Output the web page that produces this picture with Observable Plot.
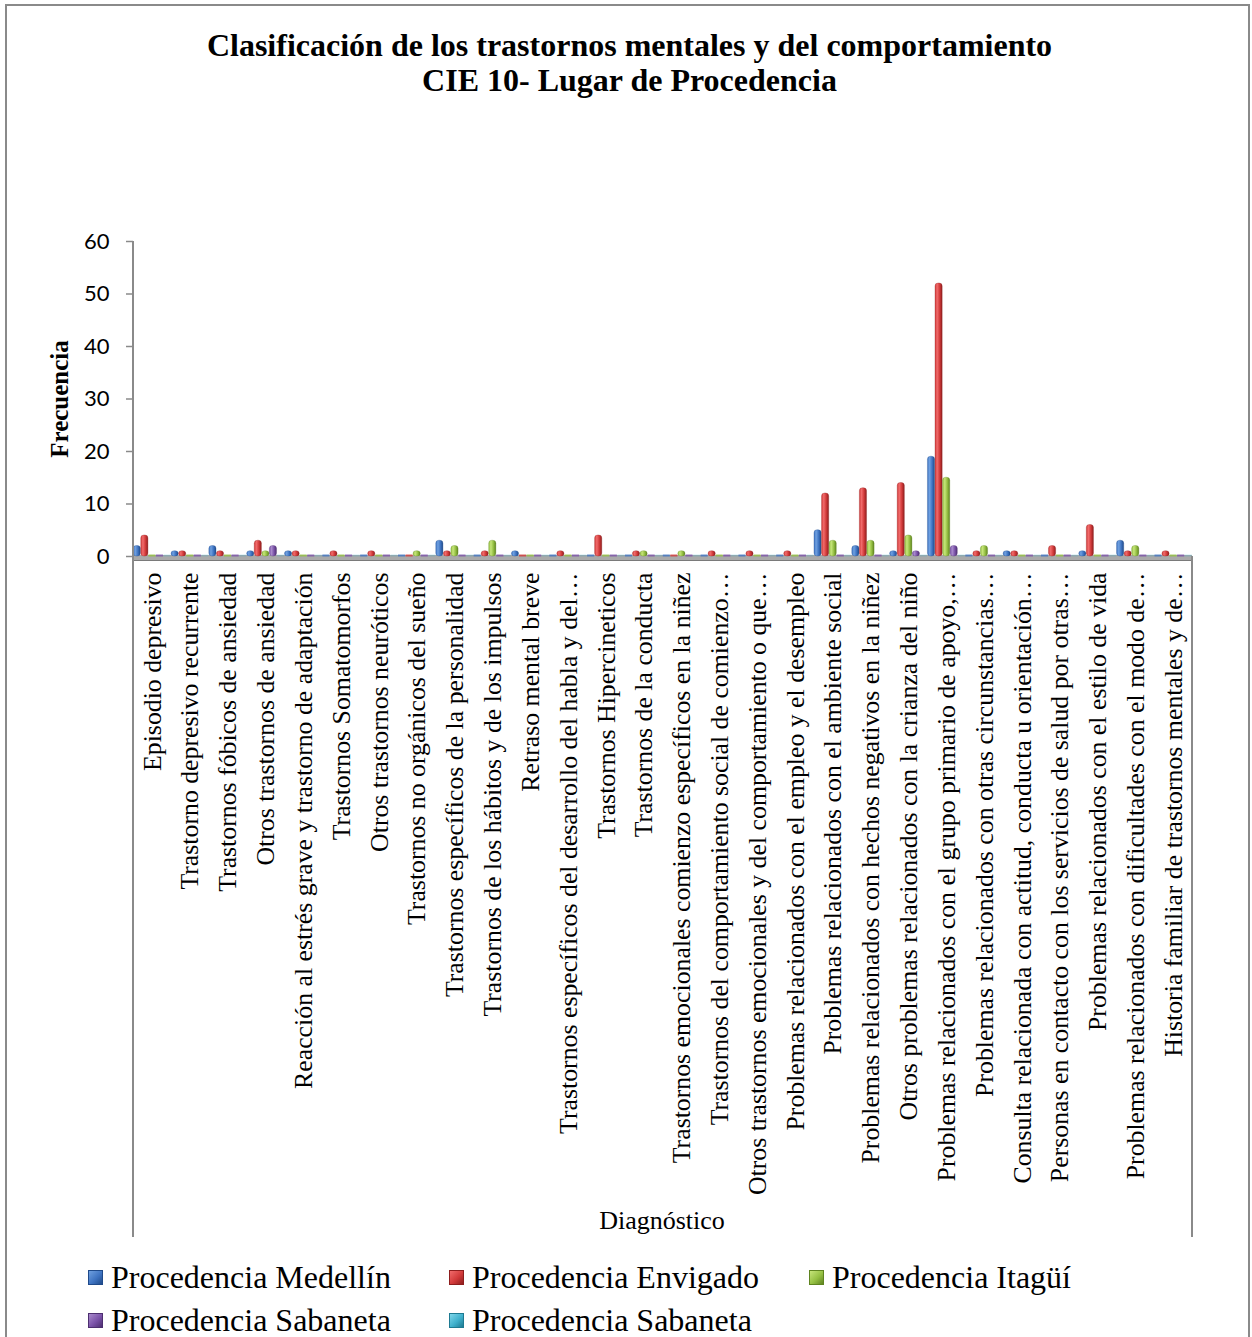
<!DOCTYPE html>
<html>
<head>
<meta charset="utf-8">
<script src="https://cdn.jsdelivr.net/npm/d3@7"></script>
<script src="https://cdn.jsdelivr.net/npm/@observablehq/plot@0.6"></script>
<style>
  html, body { margin: 0; padding: 0; background: #fff; }
  body { width: 1252px; height: 1337px; overflow: hidden; position: relative; font-family: "Liberation Serif", "Times New Roman", serif; color: #000; }
  #frame { position: absolute; left: 5px; top: 4px; width: 1245px; height: 1345px; border: 2px solid #8a8a8a; box-sizing: border-box; }
  #chart { position: absolute; left: 0; top: 0; }
  #title { position: absolute; left: 0; top: 28px; width: 1259px; text-align: center; font-weight: bold; font-size: 32px; line-height: 35px; white-space: nowrap; }
  #ylabel { position: absolute; left: 60px; top: 399px; transform: translate(-50%, -50%) rotate(-90deg); font-weight: bold; font-size: 25px; white-space: nowrap; }
  #xlabel { position: absolute; left: 662px; top: 1206px; transform: translateX(-50%); font-size: 26px; line-height: 30px; white-space: nowrap; }
  .leg { position: absolute; font-size: 32px; line-height: 40px; white-space: nowrap; }
  .leg i { position: absolute; width: 15px; height: 15px; left: -23px; top: 13px; box-sizing: border-box; }
</style>
</head>
<body>
<div id="frame"></div>
<div id="chart"></div>
<div id="title"></div>
<div id="ylabel"></div>
<div id="xlabel"></div>
<div id="legend"></div>
<script>
// ---------- data ----------
const titleLines = ["Clasificación de los trastornos mentales y del comportamiento", "CIE 10- Lugar de Procedencia"];
const yLabel = "Frecuencia";
const xLabel = "Diagnóstico";
const categories = [
  "Episodio depresivo",
  "Trastorno depresivo recurrente",
  "Trastornos fóbicos de ansiedad",
  "Otros trastornos de ansiedad",
  "Reacción al estrés grave y trastorno de adaptación",
  "Trastornos Somatomorfos",
  "Otros trastornos neuróticos",
  "Trastornos no orgánicos del sueño",
  "Trastornos específicos de la personalidad",
  "Trastornos de los hábitos y de los impulsos",
  "Retraso mental breve",
  "Trastornos específicos del desarrollo del habla y del…",
  "Trastornos Hipercineticos",
  "Trastornos de la conducta",
  "Trastornos emocionales comienzo específicos en la niñez",
  "Trastornos del comportamiento social de comienzo…",
  "Otros trastornos emocionales y del comportamiento o que…",
  "Problemas relacionados con el empleo y el desempleo",
  "Problemas relacionados con el ambiente social",
  "Problemas relacionados con hechos negativos en la niñez",
  "Otros problemas relacionados con la crianza del niño",
  "Problemas relacionados con el grupo primario de apoyo,…",
  "Problemas relacionados con otras circunstancias…",
  "Consulta relacionada con actitud, conducta u orientación…",
  "Personas en contacto con los servicios de salud por otras…",
  "Problemas relacionados con el estilo de vida",
  "Problemas relacionados con dificultades con el modo de…",
  "Historia familiar de trastornos mentales y de…"
];
const seriesNames = ["Procedencia Medellín", "Procedencia Envigado", "Procedencia Itagüí", "Procedencia Sabaneta", "Procedencia Sabaneta"];
const medellin  = [2,1,2,1,1,0,0,0,3,0,1,0,0,0,0,0,0,0,5,2,1,19,0,1,0,1,3,0];
const envigado  = [4,1,1,3,1,1,1,0,1,1,0,1,4,1,0,1,1,1,12,13,14,52,1,1,2,6,1,1];
const itagui    = [0,0,0,1,0,0,0,1,2,3,0,0,0,1,1,0,0,0,3,3,4,15,2,0,0,0,2,0];
const sabaneta  = [0,0,0,2,0,0,0,0,0,0,0,0,0,0,0,0,0,0,0,0,1,2,0,0,0,0,0,0];
const sabaneta2 = [0,0,0,0,0,0,0,0,0,0,0,0,0,0,0,0,0,0,0,0,0,0,0,0,0,0,0,0];
const yTicks = [0, 10, 20, 30, 40, 50, 60];

// ---------- styles ----------
const palette = [
  {light: "#6fa0e0", mid: "#3f74c2", dark: "#1f4a8a"},
  {light: "#f06b6b", mid: "#d23a3a", dark: "#8e1e1e"},
  {light: "#c6e57a", mid: "#95c043", dark: "#5f8420"},
  {light: "#a98acc", mid: "#7a52a8", dark: "#4d2f70"},
  {light: "#7fd6ea", mid: "#3fb0cc", dark: "#1e7a92"}
];
const W = 1252, H = 1240;
const mLeft = 133, mRight = 60, mTop = 241, mBottom = 684;
const slot = (W - mLeft - mRight) / categories.length / seriesNames.length;

const seriesValues = [medellin, envigado, itagui, sabaneta, sabaneta2];
const rows = [];
seriesValues.forEach((vals, s) => vals.forEach((v, j) => rows.push({cat: categories[j], s, value: v})));

const marks = [
  Plot.ruleY([0], {stroke: "#a9a9a9", strokeWidth: 5, dy: 1}),
  Plot.ruleY([0], {stroke: "#7a7a7a", strokeWidth: 1, dy: 4})
];
seriesValues.forEach((vals, s) => {
  const inset = {insetLeft: s * slot + 0.2, insetRight: (seriesNames.length - 1 - s) * slot + 0.2};
  marks.push(Plot.tickY(rows.filter(d => d.s === s && d.value === 0), {
    x: "cat", y: "value", stroke: palette[s].mid, strokeWidth: 2, strokeOpacity: s === 4 ? 0.25 : 0.8, dy: -1, ...inset
  }));
  marks.push(Plot.barY(rows.filter(d => d.s === s && d.value > 0), {
    x: "cat", y: "value", fill: `url(#grad${s})`, stroke: palette[s].dark, strokeWidth: 0.5, strokeOpacity: 0.6, rx: 3, ...inset
  }));
});
marks.push(Plot.axisY(yTicks, {tickSize: 7, tickPadding: 17, fontSize: 22, fontFamily: "Lato, 'Open Sans', sans-serif", label: null}));
marks.push(Plot.axisX({tickSize: 0, tickPadding: 16, rotate: -90, textAnchor: "end", lineAnchor: "middle", fontSize: 25.8, fontFamily: "'Liberation Serif', 'Times New Roman', serif", label: null}));

const plot = Plot.plot({
  width: W, height: H,
  marginLeft: mLeft, marginRight: mRight, marginTop: mTop, marginBottom: mBottom,
  style: {background: "transparent", overflow: "visible", color: "#000"},
  x: {domain: categories, padding: 0, round: false, label: null},
  y: {domain: [0, 60], label: null},
  marks
});
document.getElementById("chart").appendChild(plot);

// gradients for 3D-look cylinders
const svg = d3.select(plot);
const defs = svg.insert("defs", ":first-child");
palette.forEach((p, i) => {
  const g = defs.append("linearGradient").attr("id", `grad${i}`).attr("x1", "0").attr("x2", "1").attr("y1", "0").attr("y2", "0");
  g.append("stop").attr("offset", "0%").attr("stop-color", p.mid);
  g.append("stop").attr("offset", "30%").attr("stop-color", p.light);
  g.append("stop").attr("offset", "65%").attr("stop-color", p.mid);
  g.append("stop").attr("offset", "100%").attr("stop-color", p.dark);
});
svg.selectAll('g[aria-label="y-axis tick"]').attr("stroke", "#8a8a8a").attr("stroke-width", 1.5);

// wall lines of the plot area
const xs = plot.scale("x"), ys = plot.scale("y");
const x0 = mLeft, x1 = W - mRight;
const walls = svg.append("g").attr("stroke", "#8a8a8a").attr("stroke-width", 2);
walls.append("line").attr("x1", x0).attr("x2", x0).attr("y1", ys.apply(60)).attr("y2", 1237);
walls.append("line").attr("x1", x1).attr("x2", x1).attr("y1", ys.apply(0)).attr("y2", 1237);

// texts
document.getElementById("title").innerHTML = titleLines.join("<br>");
document.getElementById("ylabel").textContent = yLabel;
document.getElementById("xlabel").textContent = xLabel;
const legPos = [[111, 1257], [472, 1257], [832, 1257], [111, 1300], [472, 1300]];
const legend = document.getElementById("legend");
seriesNames.forEach((name, i) => {
  const d = document.createElement("div");
  d.className = "leg";
  d.style.left = legPos[i][0] + "px";
  d.style.top = legPos[i][1] + "px";
  const p = palette[i];
  d.innerHTML = `<i style="background: linear-gradient(135deg, ${p.light}, ${p.mid} 55%, ${p.dark}); border: 1px solid ${p.dark}"></i>`;
  d.appendChild(document.createTextNode(name));
  legend.appendChild(d);
});
</script>
</body>
</html>
